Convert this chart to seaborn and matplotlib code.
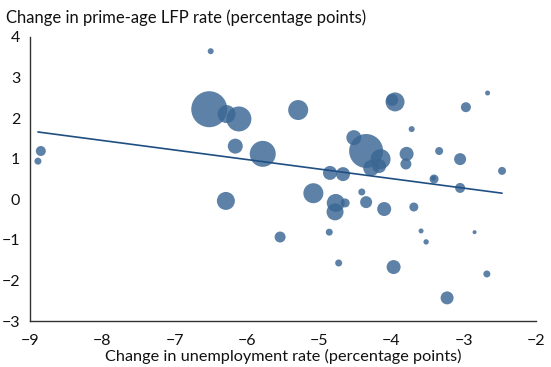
import numpy as np
import pandas as pd
import matplotlib
matplotlib.use("Agg")
import matplotlib.pyplot as plt
import seaborn as sns

# change in unemployment rate (x) and prime-age LFP rate (y), bubble radius (px)
unemp_change = [-6.50, -6.52, -6.28, -6.11, -6.16, -5.78, -8.85, -8.89, -5.29, -3.95,
                -3.99, -2.97, -2.67, -3.72, -4.52, -4.35, -4.15, -4.28, -4.17, -3.79,
                -3.80, -3.34, -3.05, -2.47, -4.85, -4.67, -3.41, -3.42, -3.05, -5.08,
                -4.77, -4.78, -4.64, -4.41, -4.35, -4.10, -3.69, -5.54, -4.86, -4.73,
                -3.97, -3.59, -3.52, -2.85, -2.68, -3.23, -6.29]
lfp_change = [3.65, 2.22, 2.10, 1.98, 1.31, 1.12, 1.19, 0.94, 2.20, 2.40,
              2.45, 2.27, 2.62, 1.73, 1.52, 1.19, 0.99, 0.77, 0.82, 1.12,
              0.87, 1.19, 0.99, 0.70, 0.65, 0.62, 0.50, 0.52, 0.28, 0.15,
              -0.09, -0.31, -0.09, 0.18, -0.07, -0.24, -0.19, -0.93, -0.81, -1.57,
              -1.67, -0.78, -1.05, -0.81, -1.84, -2.43, -0.04]
bubble_r = [3, 18, 9, 12.5, 7.5, 13, 5, 3.5, 10, 9.5,
            6, 5, 2.5, 3, 7.5, 17, 10, 8, 7, 7,
            5.5, 4, 6, 4, 7, 7, 4.5, 2.5, 5, 10,
            9, 8.5, 4.5, 3.5, 6, 7, 4.5, 5.5, 3.5, 3.5,
            7, 2.5, 2.7, 2, 3.5, 6.5, 9]

# fitted line
fit_slope = -0.235
fit_intercept = -0.43

df = pd.DataFrame({"x": unemp_change, "y": lfp_change,
                   "w": np.array(bubble_r) ** 2})

sns.set_style("white")
plt.rcParams["font.family"] = ["Lato", "DejaVu Sans"]

fig = plt.figure(figsize=(5.51, 3.67), dpi=100)
ax = fig.add_axes([0.0544, 0.1253, 0.9184, 0.7739])

k = (2 * 0.72) ** 2
sns.scatterplot(data=df, x="x", y="y", size="w",
                sizes=(k * df.w.min(), k * df.w.max()),
                color="#3b6794", alpha=0.82, linewidth=0,
                legend=False, ax=ax, zorder=2)

xs = np.array([df.x.min(), df.x.max()])
ax.plot(xs, fit_intercept + fit_slope * xs, color="#1f4f82", lw=1.2, zorder=3)

ax.set_xlim(-9, -2)
ax.set_ylim(-3, 4)
ax.set_xticks(range(-9, -1))
ax.set_yticks(range(-3, 5))
ax.tick_params(axis="both", direction="out", length=4, width=1, color="#333333",
               labelsize=11.5, labelcolor="#111111", pad=3)
ax.tick_params(axis="x", pad=5)
for s in ["top", "right"]:
    ax.spines[s].set_visible(False)
for s in ["left", "bottom"]:
    ax.spines[s].set_color("#333333")
    ax.spines[s].set_linewidth(1)

ax.set_xlabel("Change in unemployment rate (percentage points)", fontsize=11.7,
              color="#111111", labelpad=1)
ax.set_ylabel("")
fig.text(0.011, 0.953, "Change in prime-age LFP rate (percentage points)",
         fontsize=12, color="#111111", va="center", ha="left")

fig.savefig("out.png", dpi=100)
